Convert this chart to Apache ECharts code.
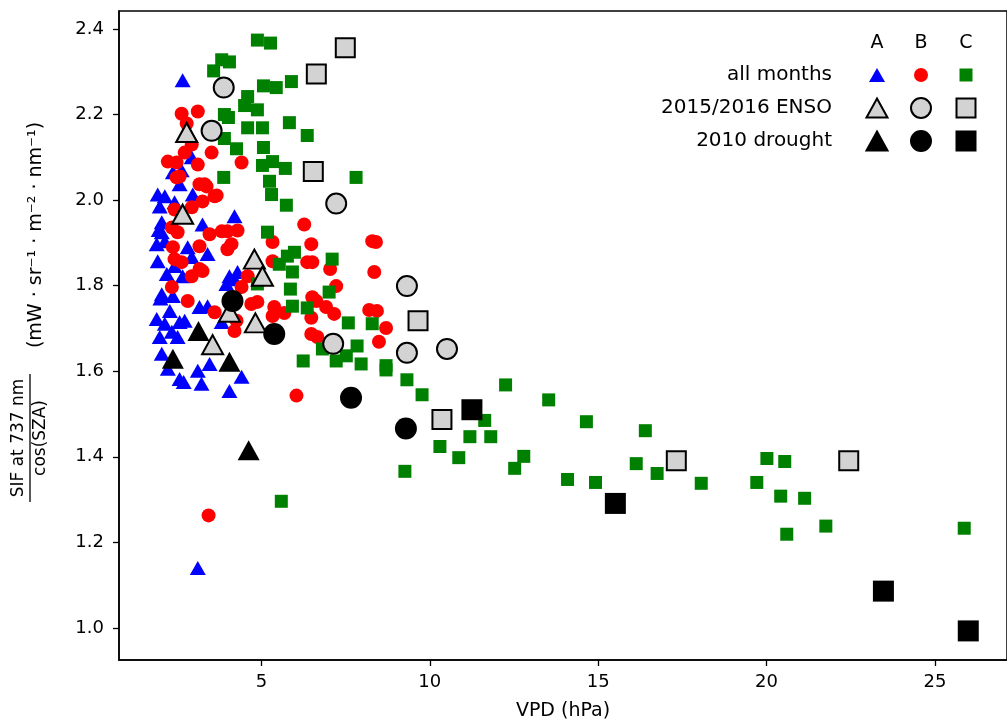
<!DOCTYPE html>
<html>
<head>
<meta charset="utf-8">
<script src="https://cdn.jsdelivr.net/npm/echarts@6/dist/echarts.min.js"></script>
<style>
  html, body { margin: 0; padding: 0; background: #fff; }
  #chart { width: 1007px; height: 726px; }
</style>
</head>
<body>
<div id="chart"></div>
<script>
// tick labels
var xTicks = [5, 10, 15, 20, 25];
var yTicks = [1.0, 1.2, 1.4, 1.6, 1.8, 2.0, 2.2, 2.4];
var groups = ['A', 'B', 'C'];
var rowNames = ['all months', '2015/2016 ENSO', '2010 drought'];

// all months  [VPD, SIF/cos(SZA)]
var aAll = [
  [2.66, 2.28], [2.63, 2.07], [2.93, 2.10], [2.37, 2.065], [2.57, 2.037], [1.92, 2.013],
  [2.13, 2.009], [1.98, 1.985], [2.42, 1.995], [2.96, 2.013], [4.20, 1.962], [3.25, 1.943],
  [2.04, 1.948], [2.04, 1.925], [2.13, 1.904], [2.81, 1.890], [2.93, 1.867], [3.40, 1.874],
  [2.19, 1.827], [2.66, 1.822], [4.05, 1.822], [4.29, 1.832], [2.42, 1.846], [2.04, 1.780],
  [2.37, 1.776], [3.96, 1.804], [2.28, 1.741], [3.16, 1.750], [3.40, 1.752], [2.13, 1.711],
  [2.57, 1.715], [2.72, 1.718], [2.34, 1.692], [2.51, 1.680], [1.98, 1.680], [3.82, 1.715],
  [4.20, 1.815], [2.04, 1.641], [2.22, 1.606], [2.57, 1.582], [2.69, 1.575], [3.11, 1.601],
  [3.22, 1.571], [3.46, 1.617], [4.41, 1.587], [4.05, 1.554], [3.11, 1.140], [1.89, 1.897],
  [1.92, 1.857], [1.89, 1.722], [1.95, 1.93], [2.0, 1.77]
];
var bAll = [
  [2.63, 2.202], [3.11, 2.207], [2.78, 2.179], [2.93, 2.130], [3.52, 2.111], [4.41, 2.088],
  [2.22, 2.090], [2.48, 2.088], [2.72, 2.111], [3.11, 2.083], [2.57, 2.055], [2.48, 2.053],
  [3.16, 2.037], [3.37, 2.032], [3.61, 2.009], [3.25, 1.997], [2.93, 1.983], [2.42, 1.978],
  [2.34, 1.936], [2.51, 1.925], [3.46, 1.920], [3.82, 1.927], [3.99, 1.927], [4.29, 1.929],
  [4.11, 1.897], [3.99, 1.885], [3.16, 1.892], [2.37, 1.890], [2.42, 1.862], [2.63, 1.855],
  [3.16, 1.839], [3.25, 1.834], [2.93, 1.822], [2.34, 1.797], [4.59, 1.822], [2.81, 1.764],
  [3.61, 1.738], [4.41, 1.797], [4.70, 1.757], [4.26, 1.718], [4.20, 1.694], [4.88, 1.762],
  [5.38, 1.750], [5.33, 1.729], [6.27, 1.943], [5.33, 1.902], [5.33, 1.857], [6.36, 1.855],
  [6.51, 1.855], [6.48, 1.897], [6.48, 1.687], [6.51, 1.773], [8.40, 1.902], [8.29, 1.904],
  [7.04, 1.839], [8.35, 1.832], [7.22, 1.799], [5.68, 1.736], [6.63, 1.764], [6.92, 1.750],
  [7.16, 1.734], [6.48, 1.725], [8.20, 1.743], [8.43, 1.741], [8.70, 1.701], [8.49, 1.669],
  [6.66, 1.680], [3.31, 2.037], [3.67, 2.011], [6.04, 1.543], [3.43, 1.263]
];
var cAll = [
  [4.88, 2.374], [5.27, 2.367], [3.82, 2.328], [4.05, 2.323], [3.58, 2.302], [5.06, 2.267],
  [5.44, 2.263], [5.89, 2.277], [4.59, 2.242], [4.50, 2.221], [4.88, 2.211], [3.90, 2.200],
  [4.02, 2.193], [4.59, 2.169], [5.03, 2.169], [5.83, 2.181], [6.36, 2.151], [3.90, 2.144],
  [4.26, 2.120], [5.06, 2.123], [5.33, 2.090], [5.03, 2.081], [5.71, 2.074], [3.88, 2.053],
  [5.24, 2.044], [7.81, 2.053], [5.30, 2.013], [5.74, 1.988], [5.18, 1.925], [5.98, 1.878],
  [5.77, 1.869], [5.53, 1.850], [5.92, 1.832], [7.10, 1.862], [5.86, 1.792], [7.01, 1.785],
  [4.88, 1.804], [5.92, 1.752], [6.36, 1.748], [7.58, 1.713], [8.29, 1.711], [6.81, 1.652],
  [7.84, 1.659], [7.22, 1.624], [7.52, 1.636], [7.96, 1.617], [8.70, 1.613], [6.24, 1.624],
  [8.70, 1.603], [9.32, 1.580], [9.77, 1.545], [12.25, 1.568], [13.53, 1.533], [14.65, 1.482],
  [11.63, 1.485], [11.19, 1.447], [11.81, 1.447], [10.30, 1.424], [10.86, 1.398], [12.79, 1.401],
  [12.52, 1.373], [9.26, 1.366], [14.09, 1.347], [14.92, 1.340], [16.40, 1.461], [16.13, 1.384],
  [16.75, 1.361], [18.06, 1.338], [20.01, 1.396], [20.54, 1.389], [19.71, 1.340], [20.42, 1.308],
  [21.13, 1.303], [20.60, 1.219], [21.76, 1.238], [25.87, 1.233], [5.59, 1.296]
];

// 2015/2016 ENSO
var aEnso = [[2.78, 2.158], [2.66, 1.967], [4.79, 1.862], [5.03, 1.822], [4.05, 1.738], [4.82, 1.713], [3.55, 1.662]];
var bEnso = [[3.88, 2.263], [3.52, 2.162], [7.22, 1.992], [7.13, 1.664], [9.32, 1.799], [9.32, 1.643], [10.51, 1.652]];
var cEnso = [[7.49, 2.356], [6.63, 2.295], [6.54, 2.067], [9.65, 1.718], [10.36, 1.487], [17.32, 1.391], [22.44, 1.391]];

// 2010 drought
var aDrought = [[3.13, 1.694], [2.37, 1.629], [4.05, 1.622], [4.62, 1.415]];
var bDrought = [[4.14, 1.764], [5.38, 1.687], [7.66, 1.538], [9.29, 1.466]];
var cDrought = [[11.25, 1.510], [15.51, 1.291], [23.47, 1.086], [25.99, 0.993]];

var font = 'DejaVu Sans';

function sc(data, symbol, size, fill, stroke) {
    return {
        type: 'scatter',
        data: data,
        symbol: symbol,
        symbolSize: size,
        itemStyle: {
            color: fill,
            borderColor: stroke || fill,
            borderWidth: stroke ? 2 : 0,
            opacity: 1
        },
        emphasis: { disabled: true },
        silent: true
    };
}

var triPts = function (cx, cy, w, h) {
    return [[cx, cy - h / 2], [cx + w / 2, cy + h / 2], [cx - w / 2, cy + h / 2]];
};

// legend table drawn by hand
var colX = [877, 921, 966];
var rowY = [75, 108, 141];
var legend = [];
groups.forEach(function (g, i) {
    legend.push({ type: 'text', x: colX[i], y: 43, style: { text: g, font: '19px ' + font, fill: '#000', align: 'center', verticalAlign: 'middle' } });
});
rowNames.forEach(function (r, j) {
    legend.push({ type: 'text', x: 832, y: rowY[j], style: { text: r, font: '20px ' + font, fill: '#000', align: 'right', verticalAlign: 'middle' } });
});
legend.push({ type: 'polygon', shape: { points: triPts(colX[0], rowY[0], 16, 14) }, style: { fill: '#0000ff' } });
legend.push({ type: 'circle', shape: { cx: colX[1], cy: rowY[0], r: 7 }, style: { fill: '#ff0000' } });
legend.push({ type: 'rect', shape: { x: colX[2] - 6.5, y: rowY[0] - 6.5, width: 13, height: 13 }, style: { fill: '#008000' } });
[['#d3d3d3', '#000'], ['#000', '#000']].forEach(function (c, k) {
    var y = rowY[k + 1];
    legend.push({ type: 'polygon', shape: { points: triPts(colX[0], y, 21, 19) }, style: { fill: c[0], stroke: c[1], lineWidth: 2 } });
    legend.push({ type: 'circle', shape: { cx: colX[1], cy: y, r: 10 }, style: { fill: c[0], stroke: c[1], lineWidth: 2 } });
    legend.push({ type: 'rect', shape: { x: colX[2] - 9.5, y: y - 9.5, width: 19, height: 19 }, style: { fill: c[0], stroke: c[1], lineWidth: 2 } });
});

// y axis title: fraction + units
var ylabel = [
    { type: 'text', x: 19, y: 438, rotation: Math.PI / 2, style: { text: 'SIF at 737 nm', font: '17px ' + font, fill: '#000', align: 'center', verticalAlign: 'middle' } },
    { type: 'line', shape: { x1: 30, y1: 374, x2: 30, y2: 502 }, style: { stroke: '#000', lineWidth: 1.3 } },
    { type: 'text', x: 41, y: 438, rotation: Math.PI / 2, style: { text: 'cos(SZA)', font: '17px ' + font, fill: '#000', align: 'center', verticalAlign: 'middle' } },
    { type: 'text', x: 36, y: 235, rotation: Math.PI / 2, style: { text: '(mW \u00b7 sr\u207b\u00b9 \u00b7 m\u207b\u00b2 \u00b7 nm\u207b\u00b9)', font: '19px ' + font, fill: '#000', align: 'center', verticalAlign: 'middle' } }
];

var chart = echarts.init(document.getElementById('chart'));
chart.setOption({
    animation: false,
    backgroundColor: '#fff',
    grid: { left: 119, top: 11, right: -3, bottom: 64, show: true, borderColor: '#000', borderWidth: 1.5, backgroundColor: 'transparent' },
    xAxis: {
        type: 'value', min: 0.77, max: 27.14,
        name: 'VPD (hPa)', nameLocation: 'middle', nameGap: 42,
        nameTextStyle: { fontFamily: font, fontSize: 19, color: '#000' },
        axisLine: { show: true, lineStyle: { color: '#000', width: 1.5 } },
        axisTick: { show: true, length: 6, customValues: xTicks, lineStyle: { color: '#000', width: 1.3 } },
        axisLabel: { customValues: xTicks, fontFamily: font, fontSize: 18, color: '#000', margin: 13 },
        splitLine: { show: false }
    },
    yAxis: {
        type: 'value', min: 0.925, max: 2.442,
        axisLine: { show: true, lineStyle: { color: '#000', width: 1.5 } },
        axisTick: { show: true, length: 6, customValues: yTicks, lineStyle: { color: '#000', width: 1.3 } },
        axisLabel: { customValues: yTicks, fontFamily: font, fontSize: 18, color: '#000', margin: 15,
            formatter: function (v) { return v.toFixed(1); } },
        splitLine: { show: false }
    },
    series: [
        sc(aAll, 'triangle', [16, 14], '#0000ff'),
        sc(bAll, 'circle', 14, '#ff0000'),
        sc(cAll, 'rect', 13, '#008000'),
        sc(aEnso, 'triangle', [21, 19], '#d3d3d3', '#000'),
        sc(bEnso, 'circle', 20, '#d3d3d3', '#000'),
        sc(cEnso, 'rect', 19, '#d3d3d3', '#000'),
        sc(aDrought, 'triangle', [22, 20], '#000'),
        sc(bDrought, 'circle', 22, '#000'),
        sc(cDrought, 'rect', 21, '#000')
    ],
    graphic: legend.concat(ylabel)
});
</script>
</body>
</html>
